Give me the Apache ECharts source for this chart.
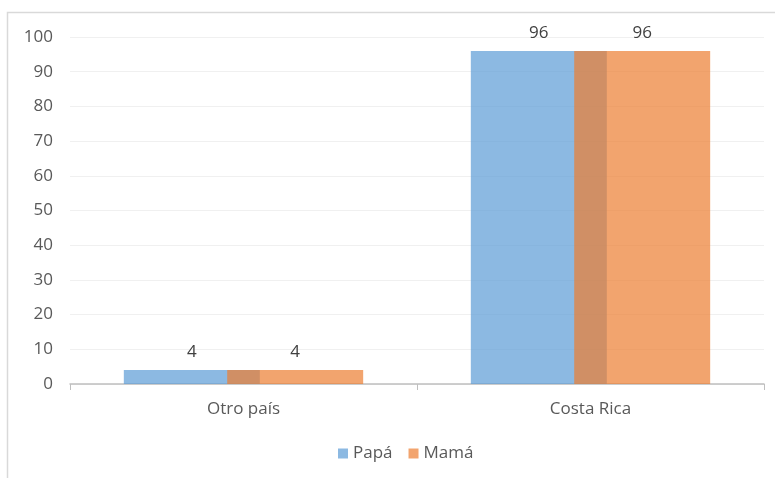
<!DOCTYPE html>
<html>
<head>
<meta charset="utf-8">
<script src="https://cdn.jsdelivr.net/npm/echarts@6/dist/echarts.min.js"></script>
<style>
  html, body { margin: 0; padding: 0; background: #fff; }
  #chart { width: 775px; height: 478px; }
</style>
</head>
<body>
<div id="chart"></div>
<script>
// Origin of parents: father vs. mother (%)
const categories = ['Otro país', 'Costa Rica'];
const papa = [4, 96];
const mama = [4, 96];
const yTicks = { min: 0, max: 100, interval: 10 };

const FONT = '"Open Sans", sans-serif';
const TEXT = '#595959';

const chart = echarts.init(document.getElementById('chart'), null, { renderer: 'canvas' });

const labelStyle = {
  show: true,
  position: 'top',
  distance: 9,
  color: '#404040',
  fontSize: 17,
  fontFamily: FONT
};

chart.setOption({
  animation: false,
  backgroundColor: '#ffffff',
  graphic: [{
    type: 'rect',
    shape: { x: 7.5, y: 12.5, width: 820, height: 520 },
    style: { fill: 'none', stroke: '#d9d9d9', lineWidth: 1.5 },
    silent: true
  }],
  grid: { left: 70, right: 11, top: 37, bottom: 94, containLabel: false },
  legend: {
    bottom: 11,
    left: 333,
    itemWidth: 10,
    itemHeight: 10,
    itemGap: 16,
    icon: 'rect',
    textStyle: { color: TEXT, fontSize: 17, fontFamily: FONT, padding: [0, 0, 0, 0] },
    data: ['Papá', 'Mamá']
  },
  xAxis: {
    type: 'category',
    data: categories,
    axisLine: { lineStyle: { color: '#bfbfbf', width: 1.5 } },
    axisTick: { show: true, length: 6, lineStyle: { color: '#bfbfbf' } },
    axisLabel: { color: TEXT, fontSize: 17, fontFamily: FONT, margin: 17 }
  },
  yAxis: {
    type: 'value',
    min: yTicks.min,
    max: yTicks.max,
    interval: yTicks.interval,
    axisLine: { show: false },
    axisTick: { show: false },
    axisLabel: { color: TEXT, fontSize: 17, fontFamily: FONT, margin: 17 },
    splitLine: { lineStyle: { color: '#f0f0f0', width: 1 } }
  },
  series: [
    {
      name: 'Papá',
      type: 'bar',
      data: papa,
      barWidth: 136,
      barGap: '-24%',
      itemStyle: { color: 'rgba(91,155,213,0.7)' },
      label: labelStyle
    },
    {
      name: 'Mamá',
      type: 'bar',
      data: mama,
      barWidth: 136,
      barGap: '-24%',
      itemStyle: { color: 'rgba(237,125,49,0.7)' },
      label: labelStyle
    }
  ]
});
</script>
</body>
</html>
